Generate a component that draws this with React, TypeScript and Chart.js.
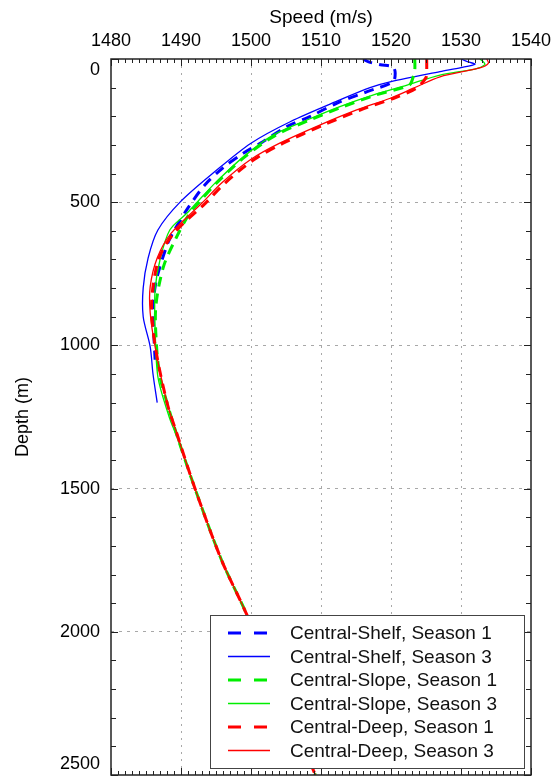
import React, { useEffect, useRef } from 'react';
import { Chart, registerables } from 'chart.js';

Chart.register(...registerables);

// ---------- data ----------
const speedTicks = [1480, 1490, 1500, 1510, 1520, 1530, 1540];
const depthTicks = [0, 500, 1000, 1500, 2000, 2500];
const speedMinorStep = 1;
const depthMinorStep = 100;

const seriesLabels = [
  'Central-Shelf, Season 1',
  'Central-Shelf, Season 3',
  'Central-Slope, Season 1',
  'Central-Slope, Season 3',
  'Central-Deep, Season 1',
  'Central-Deep, Season 3',
];

const shelfS1Depth = [0, 10, 20, 28, 50, 79, 114, 154, 201, 236, 289, 329, 380, 440, 520, 600, 650, 770, 865, 950, 1050];
const shelfS1Speed = [1516.0, 1516.8, 1518.5, 1520.3, 1520.6, 1520.3, 1516.6, 1512.3, 1508.4, 1505.1, 1501.7, 1498.9, 1496.0, 1493.4, 1491.0, 1489.0, 1488.0, 1486.5, 1486.0, 1486.1, 1486.3];

const shelfS3Depth = [0, 10, 18, 30, 44, 79, 100, 143, 219, 294, 394, 499, 597, 695, 799, 900, 1005, 1100, 1200];
const shelfS3Speed = [1530.0, 1531.0, 1532.0, 1530.0, 1527.0, 1520.0, 1517.0, 1512.7, 1505.6, 1500.0, 1494.8, 1489.9, 1486.7, 1485.3, 1484.6, 1484.6, 1485.6, 1486.0, 1486.6];

const slopeS1Depth = [0, 38, 60, 91, 126, 166, 213, 265, 340, 430, 500, 540, 625, 725, 865, 1000, 1110, 1200, 1320, 1500, 1750, 1940, 2500];
const slopeS1Speed = [1523.4, 1523.4, 1523.2, 1522.6, 1517.8, 1513.2, 1508.4, 1503.6, 1499.2, 1495.2, 1492.6, 1491.2, 1489.3, 1487.5, 1486.4, 1486.5, 1487.0, 1488.0, 1489.5, 1492.0, 1495.8, 1499.4, 1509.2];

const slopeS3Depth = [0, 10, 20, 35, 56, 91, 126, 166, 213, 265, 340, 430, 500, 537, 597, 701, 806, 935, 1110, 1249, 1319, 1500, 1750, 1940, 2500];
const slopeS3Speed = [1532.7, 1533.2, 1533.4, 1532.0, 1527.0, 1522.3, 1517.4, 1512.7, 1508.0, 1503.2, 1499.0, 1495.0, 1492.3, 1490.9, 1488.4, 1487.0, 1486.3, 1486.3, 1486.7, 1488.3, 1489.4, 1492.0, 1495.8, 1499.4, 1509.2];

const deepS1Depth = [0, 40, 65, 102, 137, 178, 230, 294, 352, 433, 503, 608, 700, 850, 1000, 1200, 1300, 1500, 1750, 1940, 2500];
const deepS1Speed = [1525.1, 1525.1, 1525.0, 1523.6, 1520.4, 1515.6, 1510.4, 1504.6, 1500.4, 1496.3, 1493.5, 1489.0, 1486.8, 1485.8, 1486.3, 1488.0, 1489.3, 1492.0, 1495.8, 1499.4, 1509.2];

const deepS3Depth = [0, 15, 31, 62, 102, 137, 178, 230, 294, 352, 433, 503, 608, 695, 795, 886, 1005, 1200, 1300, 1500, 1750, 1940, 2500];
const deepS3Speed = [1533.7, 1533.9, 1532.7, 1527.0, 1523.2, 1519.9, 1515.1, 1509.9, 1504.1, 1499.9, 1495.8, 1493.0, 1488.6, 1486.6, 1485.6, 1485.6, 1486.3, 1488.0, 1489.3, 1492.0, 1495.8, 1499.4, 1509.2];

const FONT = 'Arial, "Liberation Sans", Helvetica, sans-serif';

function toPoints(depths: number[], speeds: number[]) {
  return depths.map((d, i) => ({ x: speeds[i], y: d }));
}

const framePlugin = {
  id: 'frameTicksLegend',
  afterDraw(chart: any) {
    const { ctx, chartArea, scales } = chart;
    const { left, right, top, bottom } = chartArea;
    const xs = scales.x;
    const ys = scales.y;
    ctx.save();
    ctx.strokeStyle = '#222';
    ctx.lineWidth = 1;
    const line = (x1: number, y1: number, x2: number, y2: number) => {
      ctx.beginPath();
      ctx.moveTo(x1, y1);
      ctx.lineTo(x2, y2);
      ctx.stroke();
    };
    const xMin = speedTicks[0];
    const xMax = speedTicks[speedTicks.length - 1];
    for (let v = xMin; v <= xMax + 1e-6; v += speedMinorStep) {
      const px = Math.round(xs.getPixelForValue(v)) + 0.5;
      const major = speedTicks.includes(v);
      const len = major ? 7 : 4;
      line(px, top, px, top + len);
      line(px, bottom, px, bottom - len);
    }
    const yMin = depthTicks[0];
    const yMax = depthTicks[depthTicks.length - 1];
    for (let d = yMin; d <= yMax + 1e-6; d += depthMinorStep) {
      const py = Math.round(ys.getPixelForValue(d)) + 0.5;
      const major = depthTicks.includes(d);
      const len = major ? 7 : 5;
      line(left, py, left + len, py);
      line(right, py, right - len, py);
    }
    ctx.strokeStyle = '#222';
    ctx.lineWidth = 1.5;
    ctx.strokeRect(left, top, right - left, bottom - top);

    // legend
    const datasets = chart.data.datasets;
    const bx = 210, by = 615, bw = 314, bh = 153;
    ctx.fillStyle = '#fff';
    ctx.fillRect(bx, by, bw, bh);
    ctx.strokeStyle = '#444';
    ctx.lineWidth = 1;
    ctx.strokeRect(bx + 0.5, by + 0.5, bw, bh);
    ctx.font = `19px ${FONT}`;
    ctx.textBaseline = 'middle';
    ctx.textAlign = 'left';
    datasets.forEach((ds: any, i: number) => {
      const ry = by + 18 + i * 23.5;
      ctx.save();
      ctx.strokeStyle = ds.borderColor;
      ctx.lineWidth = ds.borderWidth;
      ctx.setLineDash(ds.borderDash && ds.borderDash.length ? [13, 13] : []);
      line(228, ry, 270, ry);
      ctx.restore();
      ctx.fillStyle = '#111';
      ctx.fillText(ds.label, 290, ry + 1);
    });
    ctx.restore();
  },
};

export default function App() {
  const ref = useRef<HTMLCanvasElement>(null);
  useEffect(() => {
    const canvas = ref.current;
    if (!canvas) return;
    const dashed = (color: string, label: string, pts: any[], order: number) => ({
      label,
      data: pts,
      borderColor: color,
      backgroundColor: color,
      borderWidth: 3,
      borderDash: [10, 7],
      pointRadius: 0,
      showLine: true,
      tension: 0.3,
      fill: false,
      order,
    });
    const solid = (color: string, label: string, pts: any[], order: number) => ({
      label,
      data: pts,
      borderColor: color,
      backgroundColor: color,
      borderWidth: 1.3,
      borderDash: [],
      pointRadius: 0,
      showLine: true,
      tension: 0.3,
      fill: false,
      order,
    });
    const blue = '#0000ff';
    const green = '#00ee00';
    const red = '#ff0000';
    const gridColor = (c: any, ticks: number[]) => {
      const v = c.tick ? c.tick.value : null;
      if (v === ticks[0] || v === ticks[ticks.length - 1]) return 'rgba(0,0,0,0)';
      return '#a8a8a8';
    };
    const zeroPad = (s: any) => {
      s.paddingLeft = 0;
      s.paddingRight = 0;
      s.paddingTop = 0;
      s.paddingBottom = 0;
    };
    const chart = new Chart(canvas, {
      type: 'scatter',
      data: {
        datasets: [
          dashed(blue, seriesLabels[0], toPoints(shelfS1Depth, shelfS1Speed), 5),
          solid(blue, seriesLabels[1], toPoints(shelfS3Depth, shelfS3Speed), 4),
          dashed(green, seriesLabels[2], toPoints(slopeS1Depth, slopeS1Speed), 3),
          solid(green, seriesLabels[3], toPoints(slopeS3Depth, slopeS3Speed), 2),
          dashed(red, seriesLabels[4], toPoints(deepS1Depth, deepS1Speed), 1),
          solid(red, seriesLabels[5], toPoints(deepS3Depth, deepS3Speed), 0),
        ] as any,
      },
      options: {
        animation: false,
        responsive: false,
        maintainAspectRatio: false,
        layout: { padding: { left: 0, top: 0, right: 25, bottom: 7 } },
        plugins: {
          legend: { display: false },
          tooltip: { enabled: false },
        },
        scales: {
          x: {
            type: 'linear',
            position: 'top',
            min: speedTicks[0],
            max: speedTicks[speedTicks.length - 1],
            afterBuildTicks: (s: any) => {
              s.ticks = speedTicks.map((v) => ({ value: v }));
            },
            afterFit: (s: any) => {
              s.height = 59;
              zeroPad(s);
            },
            ticks: {
              font: { size: 18, family: FONT },
              color: '#000',
              padding: 7,
              maxRotation: 0,
              callback: (v: any) => String(v),
            },
            grid: {
              drawTicks: false,
              lineWidth: 1,
              color: (c: any) => gridColor(c, speedTicks),
            },
            border: { display: false, dash: [2, 5] },
            title: {
              display: true,
              text: 'Speed (m/s)',
              font: { size: 19, family: FONT },
              color: '#000',
              padding: { top: 6, bottom: 0 },
            },
          },
          y: {
            type: 'linear',
            position: 'left',
            reverse: true,
            min: depthTicks[0],
            max: depthTicks[depthTicks.length - 1],
            afterBuildTicks: (s: any) => {
              s.ticks = depthTicks.map((v) => ({ value: v }));
            },
            afterFit: (s: any) => {
              s.width = 111;
              zeroPad(s);
            },
            ticks: {
              font: { size: 18, family: FONT },
              color: '#000',
              padding: 11,
              callback: (v: any) => {
                if (v === depthTicks[0]) return ['', String(v)];
                if (v === depthTicks[depthTicks.length - 1]) return [String(v), ''];
                return String(v);
              },
            },
            grid: {
              drawTicks: false,
              lineWidth: 1,
              color: (c: any) => gridColor(c, depthTicks),
            },
            border: { display: false, dash: [3, 5] },
            title: {
              display: true,
              text: 'Depth (m)',
              font: { size: 18, family: FONT },
              color: '#000',
              padding: { top: 12, bottom: 0 },
            },
          },
        },
      } as any,
      plugins: [framePlugin],
    });
    return () => chart.destroy();
  }, []);
  return (
    <div style={{ position: 'fixed', left: 0, top: 0, width: 556, height: 782, background: '#fff' }}>
      <canvas ref={ref} width={556} height={782} style={{ display: 'block', width: 556, height: 782 }} />
    </div>
  );
}
